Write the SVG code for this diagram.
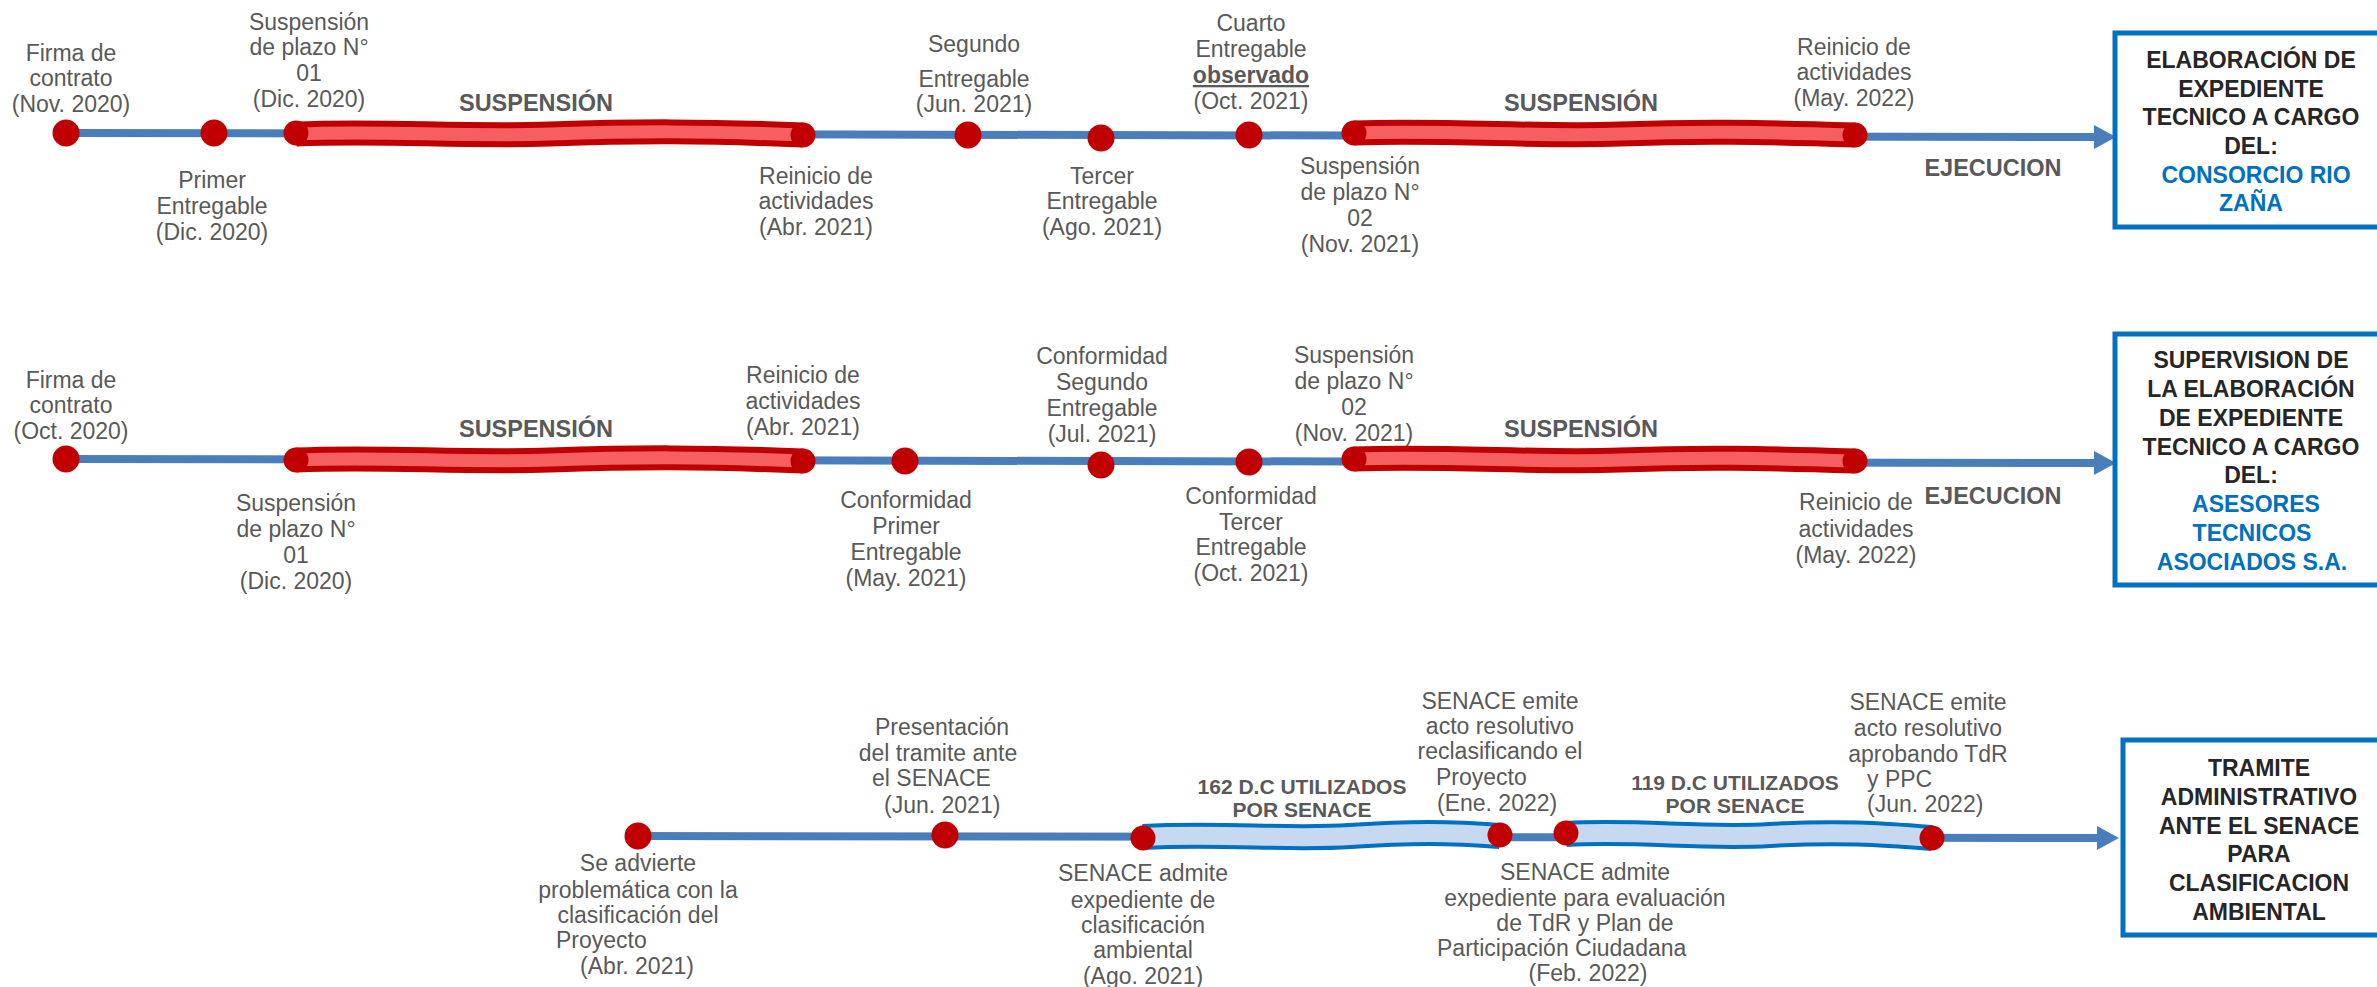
<svg xmlns="http://www.w3.org/2000/svg" width="2377" height="987" viewBox="0 0 2377 987">
<style>
text{font-family:"Liberation Sans",Arial,sans-serif}
.l{font-size:23px;fill:#595959;text-anchor:middle}
.s{text-anchor:start}
.b{font-weight:bold;font-size:23.5px;fill:#595959;text-anchor:middle}
.sm{font-weight:bold;font-size:21px;fill:#595959;text-anchor:middle}
.bx{fill:#fff;stroke:#0070C0;stroke-width:5}
.bt{font-weight:bold;font-size:23px;fill:#262626;text-anchor:middle}
.blue{fill:#0070C0}
.ln{stroke:#4A7EBB;stroke-width:8;fill:none}
.ro{stroke:#C00000;stroke-width:25;fill:none}
.ri{stroke:#F65F5F;stroke-width:13;fill:none}
.bo{stroke:#0070C0;stroke-width:26;fill:none}
.bi{stroke:#C6D9F1;stroke-width:18;fill:none}
.d{fill:#C00000}
</style>
<defs>
<marker id="ah" markerUnits="userSpaceOnUse" markerWidth="22" markerHeight="24" refX="0" refY="12" orient="auto"><path d="M0,0 L22,12 L0,24 z" fill="#4A7EBB"/></marker>
</defs>
<g id="connectors">
<path class="ln" d="M66,133 L2094,137" marker-end="url(#ah)"/>
<path class="ln" d="M66,459 L2094,463" marker-end="url(#ah)"/>
<path class="ln" d="M638,836 L2097,838" marker-end="url(#ah)"/>
<path class="ro" d="M296,134 C380,130 460,137 550,134 S700,131 803,135"/>
<path class="ri" d="M296,134 C380,130 460,137 550,134 S700,131 803,135"/>
<path class="ro" d="M1354,133 C1450,130 1540,137 1620,134 S1760,132 1855,135"/>
<path class="ri" d="M1354,133 C1450,130 1540,137 1620,134 S1760,132 1855,135"/>
<path class="ro" d="M296,460 C380,456 460,463 550,460 S700,457 803,461"/>
<path class="ri" d="M296,460 C380,456 460,463 550,460 S700,457 803,461"/>
<path class="ro" d="M1354,459 C1450,456 1540,463 1620,460 S1760,458 1855,461"/>
<path class="ri" d="M1354,459 C1450,456 1540,463 1620,460 S1760,458 1855,461"/>
<path class="bo" d="M1143,837 C1220,833 1290,840 1350,836 S1450,832 1500,836"/>
<path class="bi" d="M1143,837 C1220,833 1290,840 1350,836 S1450,832 1500,836"/>
<path class="bo" d="M1566,834 C1640,830 1700,839 1770,835 S1880,834 1932,838"/>
<path class="bi" d="M1566,834 C1640,830 1700,839 1770,835 S1880,834 1932,838"/>
</g>
<g id="row1-labels">
<text class="b" x="536" y="111">SUSPENSIÓN</text>
<text class="b" x="1581" y="111">SUSPENSIÓN</text>
<text class="b" x="1993" y="176">EJECUCION</text>
</g>
<g id="r1-firma"><circle class="d" cx="66" cy="133" r="13.5"/><text class="l" x="71"><tspan x="71" y="61">Firma de</tspan><tspan x="71" y="86">contrato</tspan><tspan x="71" y="112">(Nov. 2020)</tspan></text></g>
<g id="r1-primer"><circle class="d" cx="214" cy="133" r="13.5"/><text class="l"><tspan x="212" y="188">Primer</tspan><tspan x="212" y="214">Entregable</tspan><tspan x="212" y="240">(Dic. 2020)</tspan></text></g>
<g id="r1-susp1"><circle class="d" cx="296" cy="133" r="12.5"/><text class="l"><tspan x="309" y="30">Suspensión</tspan><tspan x="309" y="55">de plazo N°</tspan><tspan x="309" y="81">01</tspan><tspan x="309" y="107">(Dic. 2020)</tspan></text></g>
<g id="r1-reinicio1"><circle class="d" cx="803" cy="135" r="12.5"/><text class="l"><tspan x="816" y="184">Reinicio de</tspan><tspan x="816" y="209">actividades</tspan><tspan x="816" y="235">(Abr. 2021)</tspan></text></g>
<g id="r1-segundo"><circle class="d" cx="968" cy="135" r="13.5"/><text class="l"><tspan x="974" y="52">Segundo</tspan><tspan x="974" y="87">Entregable</tspan><tspan x="974" y="112">(Jun. 2021)</tspan></text></g>
<g id="r1-tercer"><circle class="d" cx="1101" cy="138" r="13.5"/><text class="l"><tspan x="1102" y="184">Tercer</tspan><tspan x="1102" y="209">Entregable</tspan><tspan x="1102" y="235">(Ago. 2021)</tspan></text></g>
<g id="r1-cuarto"><circle class="d" cx="1249" cy="135" r="13.5"/><text class="l"><tspan x="1251" y="31">Cuarto</tspan><tspan x="1251" y="57">Entregable</tspan><tspan x="1251" y="83" font-weight="bold" text-decoration="underline">observado</tspan><tspan x="1251" y="109">(Oct. 2021)</tspan></text></g>
<g id="r1-susp2"><circle class="d" cx="1354" cy="133" r="12.5"/><text class="l"><tspan x="1360" y="174">Suspensión</tspan><tspan x="1360" y="200">de plazo N°</tspan><tspan x="1360" y="226">02</tspan><tspan x="1360" y="252">(Nov. 2021)</tspan></text></g>
<g id="r1-reinicio2"><circle class="d" cx="1855" cy="135" r="12.5"/><text class="l"><tspan x="1854" y="55">Reinicio de</tspan><tspan x="1854" y="80">actividades</tspan><tspan x="1854" y="106">(May. 2022)</tspan></text></g>
<g id="box1"><rect class="bx" x="2115" y="33" width="300" height="194"/><text class="bt"><tspan x="2251" y="68">ELABORACIÓN DE</tspan><tspan x="2251" y="97">EXPEDIENTE</tspan><tspan x="2251" y="125">TECNICO A CARGO</tspan><tspan x="2251" y="154">DEL:</tspan><tspan class="blue" x="2256" y="183">CONSORCIO RIO</tspan><tspan class="blue" x="2251" y="211">ZAÑA</tspan></text></g>

<g id="row2-labels">
<text class="b" x="536" y="437">SUSPENSIÓN</text>
<text class="b" x="1581" y="437">SUSPENSIÓN</text>
<text class="b" x="1993" y="504">EJECUCION</text>
</g>
<g id="r2-firma"><circle class="d" cx="66" cy="459" r="13.5"/><text class="l"><tspan x="71" y="388">Firma de</tspan><tspan x="71" y="413">contrato</tspan><tspan x="71" y="439">(Oct. 2020)</tspan></text></g>
<g id="r2-susp1"><circle class="d" cx="296" cy="460" r="12.5"/><text class="l"><tspan x="296" y="511">Suspensión</tspan><tspan x="296" y="537">de plazo N°</tspan><tspan x="296" y="563">01</tspan><tspan x="296" y="589">(Dic. 2020)</tspan></text></g>
<g id="r2-reinicio1"><circle class="d" cx="803" cy="461" r="12.5"/><text class="l"><tspan x="803" y="383">Reinicio de</tspan><tspan x="803" y="409">actividades</tspan><tspan x="803" y="435">(Abr. 2021)</tspan></text></g>
<g id="r2-conf1"><circle class="d" cx="905" cy="461" r="13.5"/><text class="l"><tspan x="906" y="508">Conformidad</tspan><tspan x="906" y="534">Primer</tspan><tspan x="906" y="560">Entregable</tspan><tspan x="906" y="586">(May. 2021)</tspan></text></g>
<g id="r2-conf2"><circle class="d" cx="1101" cy="465" r="13.5"/><text class="l"><tspan x="1102" y="364">Conformidad</tspan><tspan x="1102" y="390">Segundo</tspan><tspan x="1102" y="416">Entregable</tspan><tspan x="1102" y="442">(Jul. 2021)</tspan></text></g>
<g id="r2-conf3"><circle class="d" cx="1249" cy="462" r="13.5"/><text class="l"><tspan x="1251" y="504">Conformidad</tspan><tspan x="1251" y="530">Tercer</tspan><tspan x="1251" y="555">Entregable</tspan><tspan x="1251" y="581">(Oct. 2021)</tspan></text></g>
<g id="r2-susp2"><circle class="d" cx="1354" cy="459" r="12.5"/><text class="l"><tspan x="1354" y="363">Suspensión</tspan><tspan x="1354" y="389">de plazo N°</tspan><tspan x="1354" y="415">02</tspan><tspan x="1354" y="441">(Nov. 2021)</tspan></text></g>
<g id="r2-reinicio2"><circle class="d" cx="1855" cy="461" r="12.5"/><text class="l"><tspan x="1856" y="510">Reinicio de</tspan><tspan x="1856" y="537">actividades</tspan><tspan x="1856" y="563">(May. 2022)</tspan></text></g>
<g id="box2"><rect class="bx" x="2115" y="334" width="300" height="251"/><text class="bt"><tspan x="2251" y="368">SUPERVISION DE</tspan><tspan x="2251" y="397">LA ELABORACIÓN</tspan><tspan x="2251" y="426">DE EXPEDIENTE</tspan><tspan x="2251" y="455">TECNICO A CARGO</tspan><tspan x="2251" y="483">DEL:</tspan><tspan class="blue" x="2256" y="512">ASESORES</tspan><tspan class="blue" x="2252" y="541">TECNICOS</tspan><tspan class="blue" x="2252" y="570">ASOCIADOS S.A.</tspan></text></g>

<g id="row3-labels">
<text class="sm"><tspan x="1302" y="794">162 D.C UTILIZADOS</tspan><tspan x="1302" y="817">POR SENACE</tspan></text>
<text class="sm"><tspan x="1735" y="790">119 D.C UTILIZADOS</tspan><tspan x="1735" y="813">POR SENACE</tspan></text>
</g>
<g id="r3-advierte"><circle class="d" cx="638" cy="836" r="13.5"/><text class="l"><tspan x="638" y="871">Se advierte</tspan><tspan x="638" y="898">problemática con la</tspan><tspan x="638" y="923">clasificación del</tspan><tspan class="s" x="556" y="948">Proyecto</tspan><tspan x="637" y="974">(Abr. 2021)</tspan></text></g>
<g id="r3-presentacion"><circle class="d" cx="945" cy="835" r="13.5"/><text class="l"><tspan x="942" y="735">Presentación</tspan><tspan x="938" y="761">del tramite ante</tspan><tspan class="s" x="872" y="786">el SENACE</tspan><tspan class="s" x="884" y="813">(Jun. 2021)</tspan></text></g>
<g id="r3-admite1"><circle class="d" cx="1143" cy="838" r="12.5"/><text class="l"><tspan x="1143" y="881">SENACE admite</tspan><tspan x="1143" y="908">expediente de</tspan><tspan x="1143" y="933">clasificación</tspan><tspan x="1143" y="958">ambiental</tspan><tspan x="1143" y="984">(Ago. 2021)</tspan></text></g>
<g id="r3-emite1"><circle class="d" cx="1500" cy="835" r="12.5"/><text class="l"><tspan x="1500" y="709">SENACE emite</tspan><tspan x="1500" y="734">acto resolutivo</tspan><tspan x="1500" y="759">reclasificando el</tspan><tspan class="s" x="1436" y="785">Proyecto</tspan><tspan class="s" x="1437" y="811">(Ene. 2022)</tspan></text></g>
<g id="r3-admite2"><circle class="d" cx="1566" cy="833" r="12.5"/><text class="l"><tspan x="1585" y="880">SENACE admite</tspan><tspan x="1585" y="906">expediente para evaluación</tspan><tspan x="1585" y="931">de TdR y Plan de</tspan><tspan class="s" x="1437" y="956">Participación Ciudadana</tspan><tspan x="1588" y="981">(Feb. 2022)</tspan></text></g>
<g id="r3-emite2"><circle class="d" cx="1932" cy="838" r="12.5"/><text class="l"><tspan x="1928" y="710">SENACE emite</tspan><tspan x="1928" y="736">acto resolutivo</tspan><tspan x="1928" y="762">aprobando TdR</tspan><tspan class="s" x="1867" y="787">y PPC</tspan><tspan class="s" x="1867" y="812">(Jun. 2022)</tspan></text></g>
<g id="box3"><rect class="bx" x="2123" y="740" width="300" height="195"/><text class="bt"><tspan x="2259" y="776">TRAMITE</tspan><tspan x="2259" y="805">ADMINISTRATIVO</tspan><tspan x="2259" y="834">ANTE EL SENACE</tspan><tspan x="2259" y="862">PARA</tspan><tspan x="2259" y="891">CLASIFICACION</tspan><tspan x="2259" y="920">AMBIENTAL</tspan></text></g>
</svg>
